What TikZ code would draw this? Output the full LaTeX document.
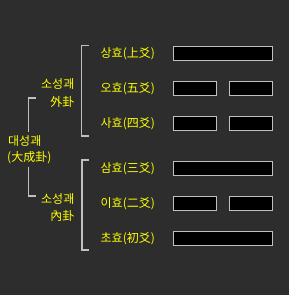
\documentclass[tikz,border=0pt]{standalone}
\usepackage{fontspec}
\setmainfont{Noto Sans CJK KR}
\usetikzlibrary{positioning}

\definecolor{bg}{HTML}{2D2D2D}
\definecolor{hyo}{HTML}{FFFF00}
\definecolor{rim}{HTML}{C0C0C0}

\tikzset{
  lbl/.style={text=hyo, font=\fontsize{12}{14}\selectfont, inner sep=0pt},
  yang/.style={draw=rim, fill=black, line width=1.2pt, minimum width=99pt, minimum height=14pt, inner sep=0pt, anchor=west},
  yin/.style={yang, minimum width=43pt},
  brk/.style={draw=rim, line width=1.2pt}
}

\begin{document}
\begin{tikzpicture}[x=1pt,y=-1pt]

  \fill[bg] (0,0) rectangle (289,295);
  \useasboundingbox (0,0) rectangle (289,295);

  % the six lines
  \node[yang] (y6)  at (172.5,53.5)  {};
  \node[yin]  (y5a) at (172.5,88.5)  {};
  \node[yin]  (y5b) at (228.5,88.5)  {};
  \node[yin]  (y4a) at (172.5,123.5) {};
  \node[yin]  (y4b) at (228.5,123.5) {};
  \node[yang] (y3)  at (172.5,168.5) {};
  \node[yin]  (y2a) at (172.5,203.5) {};
  \node[yin]  (y2b) at (228.5,203.5) {};
  \node[yang] (y1)  at (172.5,238.5) {};

  \node[lbl, anchor=west] (l6) at (100.5,53.5)  {상효(上爻)};
  \node[lbl, anchor=west] (l5) at (100.5,88.5)  {오효(五爻)};
  \node[lbl, anchor=west] (l4) at (100.5,123.5) {사효(四爻)};
  \node[lbl, anchor=west] (l3) at (100.5,168.5) {삼효(三爻)};
  \node[lbl, anchor=west] (l2) at (100.5,203.5) {이효(二爻)};
  \node[lbl, anchor=west] (l1) at (100.5,238.5) {초효(初爻)};

  \node[lbl, anchor=east] (outer)  at (74.5,84)    {소성괘};
  \node[lbl, anchor=east] (outerh) at (74.5,101.5) {外卦};
  \node[lbl, anchor=east] (inner)  at (74.5,199)   {소성괘};
  \node[lbl, anchor=east] (innerh) at (74.5,215.5) {內卦};
  \node[lbl, anchor=west] (whole)  at (8,141)      {대성괘};
  \node[lbl, anchor=west] (wholeh) at (7,157.5)    {(大成卦)};

  \coordinate (ua) at (89,45.5);
  \coordinate (ub) at (89,136);
  \coordinate (la) at (89,160);
  \coordinate (lb) at (89,250);
  \coordinate (wa) at (36,98);
  \coordinate (wb) at (28.5,132);
  \coordinate (wc) at (28.5,166.5);
  \coordinate (wd) at (36,196);

  \draw[brk] (ua) -- ++(-7.5,0) |- (ub);
  \draw[brk] (la) -- ++(-7,0) |- (lb);
  \draw[brk] (wa) -| (wb);
  \draw[brk] (wc) |- (wd);

\end{tikzpicture}
\end{document}
